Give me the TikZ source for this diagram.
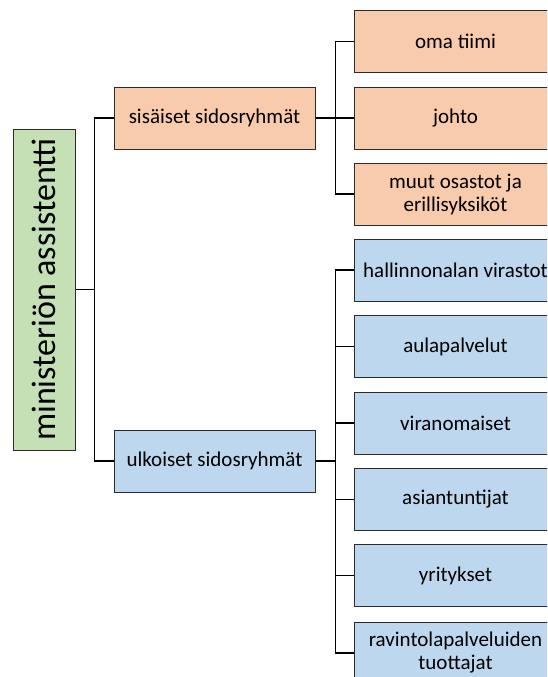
\documentclass[tikz,border=0pt]{standalone}
\usepackage{fontspec}
\setmainfont{Carlito}
\definecolor{orfill}{HTML}{F8CBAD}
\definecolor{blfill}{HTML}{BDD7EE}
\definecolor{grfill}{HTML}{C5E0B4}
\definecolor{boxline}{HTML}{2B2B2B}
\begin{document}
\begin{tikzpicture}[x=1pt,y=-1pt,
  box/.style={draw=boxline, line width=1pt, rectangle, inner sep=2pt, align=center,
    font=\fontsize{21}{23}\selectfont},
  midbox/.style={box, minimum width=201pt, minimum height=62pt},
  rbox/.style={box, minimum width=203pt, minimum height=62pt},
  orange/.style={fill=orfill},
  blue/.style={fill=blfill},
  conn/.style={draw=black, line width=1.4pt}
]
\useasboundingbox (0,0) rectangle (547,677);
\clip (0,0) rectangle (547,677);
\fill[white] (0,0) rectangle (547,677);

\node[box, fill=grfill, rotate=90, minimum width=321pt, minimum height=62pt,
  font=\fontsize{34}{36}\selectfont] (root) at (44,289.5) {ministeriön assistentti};

\node[midbox, orange] (sis) at (214.5,118) {sisäiset sidosryhmät};
\node[midbox, blue] (ulk) at (214.5,461) {ulkoiset sidosryhmät};

\node[rbox, orange] (oma) at (455.5,41.5) {oma tiimi};
\node[rbox, orange] (joh) at (455.5,118) {johto};
\node[rbox, orange] (muu) at (455.5,194) {muut osastot ja\\erillisyksiköt};

\node[rbox, blue] (hal) at (455.5,270) {hallinnonalan virastot};
\node[rbox, blue] (aul) at (455.5,346.5) {aulapalvelut};
\node[rbox, blue] (vir) at (455.5,423) {viranomaiset};
\node[rbox, blue] (asi) at (455.5,499.5) {asiantuntijat};
\node[rbox, blue] (yri) at (455.5,575.5) {yritykset};
\node[rbox, blue] (rav) at (455.5,653) {ravintolapalveluiden\\tuottajat};

\draw[conn] (sis.west) -- ++(-19,0) |- (root.south);
\draw[conn] (ulk.west) -- ++(-19,0) |- (root.south);

\foreach \t in {oma,joh,muu}
  \draw[conn] (sis.east) -- ++(20,0) |- (\t.west);
\foreach \t in {hal,aul,vir,asi,yri,rav}
  \draw[conn] (ulk.east) -- ++(20,0) |- (\t.west);
\end{tikzpicture}
\end{document}
